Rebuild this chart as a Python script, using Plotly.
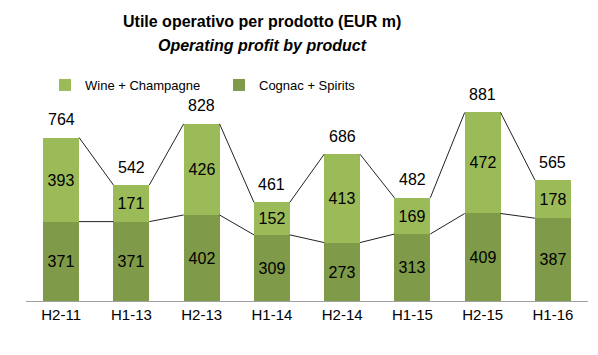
import plotly.graph_objects as go

categories = ["H2-11", "H1-13", "H2-13", "H1-14", "H2-14", "H1-15", "H2-15", "H1-16"]
cognac_spirits = [371, 371, 402, 309, 273, 313, 409, 387]
wine_champagne = [393, 171, 426, 152, 413, 169, 472, 178]
totals = [764, 542, 828, 461, 686, 482, 881, 565]

LIGHT = "#9BBB59"
DARK = "#7F9A48"
BAR_W = 0.51
REG = "Liberation Sans, Arial, sans-serif"

# page offset of the figure inside the browser (default body margin)
OFF = 8
PLOT_L, PLOT_R, PLOT_T, PLOT_B = 26, 588, 87, 301  # plot area in page px
PLOT_H = PLOT_B - PLOT_T
PLOT_W = PLOT_R - PLOT_L


def paper_y(page_y):
    return (PLOT_B - page_y) / PLOT_H


def paper_x(page_x):
    return (page_x - PLOT_L) / PLOT_W


idx = list(range(len(categories)))

fig = go.Figure()
fig.add_trace(go.Bar(
    x=idx, y=cognac_spirits, name="Cognac + Spirits", marker_color=DARK,
    width=BAR_W, text=cognac_spirits, textposition="inside", insidetextanchor="middle",
    textfont=dict(family=REG, size=16, color="black"), marker_line_width=0,
))
fig.add_trace(go.Bar(
    x=idx, y=wine_champagne, name="Wine + Champagne", marker_color=LIGHT,
    width=BAR_W, text=wine_champagne, textposition="inside", insidetextanchor="middle",
    textfont=dict(family=REG, size=16, color="black"), marker_line_width=0,
))


def connectors(vals):
    xs, ys = [], []
    for i in range(len(vals) - 1):
        xs += [i + BAR_W / 2, i + 1 - BAR_W / 2, None]
        ys += [vals[i], vals[i + 1], None]
    return xs, ys


for series in (totals, cognac_spirits):
    xs, ys = connectors(series)
    fig.add_trace(go.Scatter(x=xs, y=ys, mode="lines", line=dict(color="#222222", width=1),
                             showlegend=False, hoverinfo="skip"))

for i, t in enumerate(totals):
    fig.add_annotation(x=i, y=t, text=str(t), showarrow=False, yshift=18,
                       yanchor="middle", font=dict(family=REG, size=16, color="black"))

fig.add_annotation(x=paper_x(262), y=paper_y(22), xref="paper", yref="paper",
                   text="<b>Utile operativo per prodotto (EUR m)</b>", showarrow=False,
                   xanchor="center", yanchor="middle",
                   font=dict(family=REG, size=16, color="black"))
fig.add_annotation(x=paper_x(262), y=paper_y(45), xref="paper", yref="paper",
                   text="<b><i>Operating profit by product</i></b>", showarrow=False,
                   xanchor="center", yanchor="middle",
                   font=dict(family=REG, size=16, color="black"))

fig.update_layout(
    width=598 - OFF, height=355 - OFF,
    barmode="stack", bargap=0,
    plot_bgcolor="white", paper_bgcolor="white",
    margin=dict(l=PLOT_L - OFF, r=598 - PLOT_R, t=PLOT_T - OFF, b=355 - PLOT_B),
    legend=dict(
        orientation="h", x=paper_x(45), xanchor="left", y=paper_y(85), yanchor="middle",
        traceorder="reversed", font=dict(family=REG, size=13, color="black"),
        entrywidth=129, entrywidthmode="pixels", bgcolor="rgba(0,0,0,0)",
    ),
    xaxis=dict(
        tickvals=idx, ticktext=categories, range=[-0.5, len(categories) - 0.5],
        showline=True, linecolor="#A0A0A0", linewidth=1, ticks="", showgrid=False,
        zeroline=False, tickfont=dict(family=REG, size=15, color="black"),
    ),
    yaxis=dict(range=[0, 1000], visible=False, showgrid=False, zeroline=False),
    showlegend=True,
)

fig.write_html("out.html")
